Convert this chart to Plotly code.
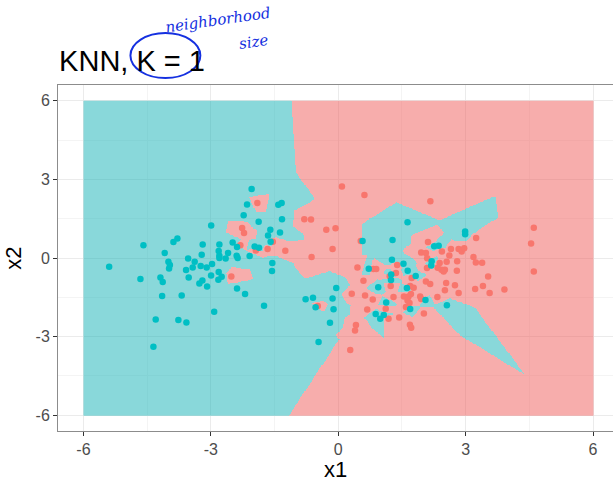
import numpy as np
import plotly.graph_objects as go

# ---- data ----
teal_x1 = [-4.588, -3.882, -3.788, -3.193, -4.087, -5.395, -4.0, -3.965, -3.984, -3.536,
           -3.381, -3.216, -3.584, -3.428, -3.240, -3.099, -2.972, -2.995, -4.659, -4.188,
           -4.134, -3.522, -3.271, -3.2, -3.089, -4.148, -3.687, -2.922, -4.299, -3.765,
           -3.576, -4.353, -2.993, -2.040, -2.148, -1.412, -1.334, -2.228, -1.875, -1.325,
           -1.6, -1.372, -1.654, -1.593, -2.487, -2.8, -2.384, -1.969, -1.866, -2.816,
           -2.595, -2.8, -2.8, -2.652, -2.393, -2.369, -2.087, -1.553, -1.56, -2.816,
           -2.746, -2.824, -2.384, -2.195, -0.769, -1.748, -0.595, -0.534, -0.464, -0.195,
           -0.047, -0.134, -0.111, 0.572, 0.718, 0.941, 0.882, 0.988, 1.071, 1.631,
           1.278, 2.259, 2.365, 2.2, 2.188, 1.264, 1.536, 1.635, 1.247, 1.242,
           1.824, 1.616, 1.129, 2.054, 1.694, 2.988, 2.988, 2.558]
teal_x2 = [0.491, 0.606, 0.743, 0.514, 0.187, -0.335, -0.145, -0.270, -0.4, -0.019,
           -0.145, 0.122, -0.461, -0.362, -0.309, -0.362, -0.232, -0.667, -0.804, -0.743,
           -0.918, -0.743, -0.971, -0.857, -1.086, -1.451, -1.429, -2.053, -2.343, -2.366,
           -2.457, -3.383, 1.242, 2.636, 2.038, 2.027, 2.103, 1.634, 1.379, 1.482,
           1.074, 0.971, 0.857, 0.617, 0.590, 0.514, 0.415, 0.438, 0.389, 0.263,
           0.187, 0.084, 0.0, -0.019, 0.084, -0.004, 0.072, -0.194, -0.499, -0.537,
           -0.716, -0.830, -1.162, -1.375, -1.573, -1.821, -1.516, -1.878, -3.204, -2.469,
           -1.147, -1.543, -1.954, 0.644, -0.411, -1.116, -2.137, -2.316, -2.171, 1.36,
           0.682, 0.453, 0.472, -0.126, -0.29, -0.069, -0.221, -0.488, -0.629, -0.842,
           -0.690, -1.147, -1.695, -1.6, -1.947, 1.01, 0.910, -1.802]

red_x1 = [-1.906, -2.264, -2.219, -1.541, -2.306, -1.941, -1.664, -1.247, -0.8, -0.642,
          -2.518, 0.087, 0.616, -0.282, -0.064, -0.134, 0.529, -0.628, 0.452, 0.828,
          0.894, 0.593, 0.318, 0.631, 0.812, -0.482, 0.682, 0.416, 0.395, 0.282,
          2.169, 2.113, 1.953, 2.064, 2.094, 2.089, 1.388, 1.358, 1.212, 1.729,
          2.064, 2.165, 1.235, 1.694, 1.776, 1.546, 1.654, 1.711, 1.929, 1.953,
          1.631, 1.678, 1.301, 1.118, 1.593, 1.184, 1.435, 2.016, 1.687, 1.718,
          3.247, 2.44, 2.654, 2.835, 2.906, 2.965, 2.616, 3.184, 2.388, 2.553,
          2.8, 3.24, 3.388, 2.341, 2.431, 2.511, 2.482, 2.793, 3.529, 2.541,
          2.748, 2.511, 3.224, 3.407, 3.565, 2.835, 2.334, 4.605, 4.541, 4.605,
          3.913]
red_x2 = [2.103, 1.143, 0.952, 0.617, 0.491, 0.286, 0.343, 0.274, 1.474, 1.467,
          -0.705, 2.724, 2.408, 1.074, 1.139, 0.339, 0.644, 0.038, -0.362, -0.423,
          -0.423, -0.869, -1.364, -1.429, -1.585, -1.832, -1.966, -2.556, -2.766, -3.509,
          2.168, 0.610, 0.206, 0.190, -0.011, -0.381, -0.267, -0.571, -0.697, -0.762,
          -0.899, -0.994, -1.070, -1.070, -1.135, -1.467, -1.467, -1.375, -1.467, -1.562,
          -1.619, -1.718, -1.490, -1.935, -1.870, -2.316, -2.270, -2.118, -2.545, -2.659,
          0.762, 0.248, 0.339, 0.339, 0.244, 0.370, 0.095, 0.038, -0.194, -0.145,
          -0.126, -0.168, -0.183, -0.373, -0.450, -0.450, -0.518, -0.488, -0.705, -0.952,
          -1.04, -1.230, -1.181, -1.067, -1.337, -1.337, -1.490, 1.150, 0.549, -0.514,
          -1.2]

tick_vals = [-6, -3, 0, 3, 6]
tick_text = ["-6", "-3", "0", "3", "6"]
grid_min, grid_max = -6, 6

# ---- 1-NN classification of a grid over [-6, 6]^2 ----
px = np.array(teal_x1 + red_x1)
py = np.array(teal_x2 + red_x2)
lab = np.array([0] * len(teal_x1) + [1] * len(red_x1))
n = 480
step = (grid_max - grid_min) / n
gx = grid_min + step / 2 + step * np.arange(n)
gy = gx.copy()
Z = np.zeros((n, n), dtype=int)
for i0 in range(0, n, 40):
    yy = gy[i0:i0 + 40][:, None, None]
    xx = gx[None, :, None]
    d = (xx - px[None, None, :]) ** 2 + (yy - py[None, None, :]) ** 2
    Z[i0:i0 + 40] = lab[np.argmin(d, axis=2)]

TEAL = "#00BFC4"
RED = "#F8766D"
font = "Liberation Sans, Arial, sans-serif"

fig = go.Figure()
fig.add_trace(go.Heatmap(
    x=gx, y=gy, z=Z, zmin=0, zmax=1,
    colorscale=[[0, "rgba(20,178,182,0.5)"], [1, "rgba(240,92,90,0.5)"]],
    showscale=False, hoverinfo="skip"))
fig.add_trace(go.Scatter(x=red_x1, y=red_x2, mode="markers",
                         marker=dict(color=RED, size=6.5), showlegend=False))
fig.add_trace(go.Scatter(x=teal_x1, y=teal_x2, mode="markers",
                         marker=dict(color=TEAL, size=6.5), showlegend=False))

axis_common = dict(
    tickvals=tick_vals, ticktext=tick_text, ticks="outside", ticklen=4,
    tickcolor="#333333", tickwidth=1,
    tickfont=dict(family=font, size=16, color="#4D4D4D"),
    showgrid=True, gridcolor="#EBEBEB", gridwidth=1, zeroline=False,
    showline=True, linecolor="#8C8C8C", linewidth=1,
    minor=dict(dtick=1.5, tick0=0, showgrid=True, gridcolor="#F4F4F4", gridwidth=0.6, ticks=""),
)
fig.update_xaxes(axis_common, range=[-6.6, 6.47], mirror=True,
                 title=dict(text="x1", font=dict(family=font, size=22, color="black"), standoff=8))
fig.update_yaxes(axis_common, range=[-6.6, 6.6], mirror=False,
                 title=dict(text="x2", font=dict(family=font, size=22, color="black"), standoff=7))

fig.update_layout(
    width=613, height=482,
    margin=dict(l=57.5, r=0, t=85, b=50.5),
    plot_bgcolor="white", paper_bgcolor="white",
    title=dict(text="KNN, K = 1", x=0.002, xref="paper", xanchor="left",
               y=(482 - 61) / 482, yref="container", yanchor="middle",
               font=dict(family=font, size=29, color="black")),
    shapes=[dict(type="circle", xref="paper", yref="paper",
                 x0=0.1305, x1=0.2565, y0=1.020, y1=1.150,
                 line=dict(color="#1530E0", width=2))],
    annotations=[
        dict(text="<i>neighborhood</i>", xref="paper", yref="paper", x=0.289, y=1.188,
             xanchor="center", yanchor="middle", showarrow=False, textangle=-8,
             font=dict(family="DejaVu Serif", size=15, color="#1530E0")),
        dict(text="<i>size</i>", xref="paper", yref="paper", x=0.352, y=1.124,
             xanchor="center", yanchor="middle", showarrow=False, textangle=-8,
             font=dict(family="DejaVu Serif", size=15, color="#1530E0")),
    ],
)

fig.write_html("out.html")
